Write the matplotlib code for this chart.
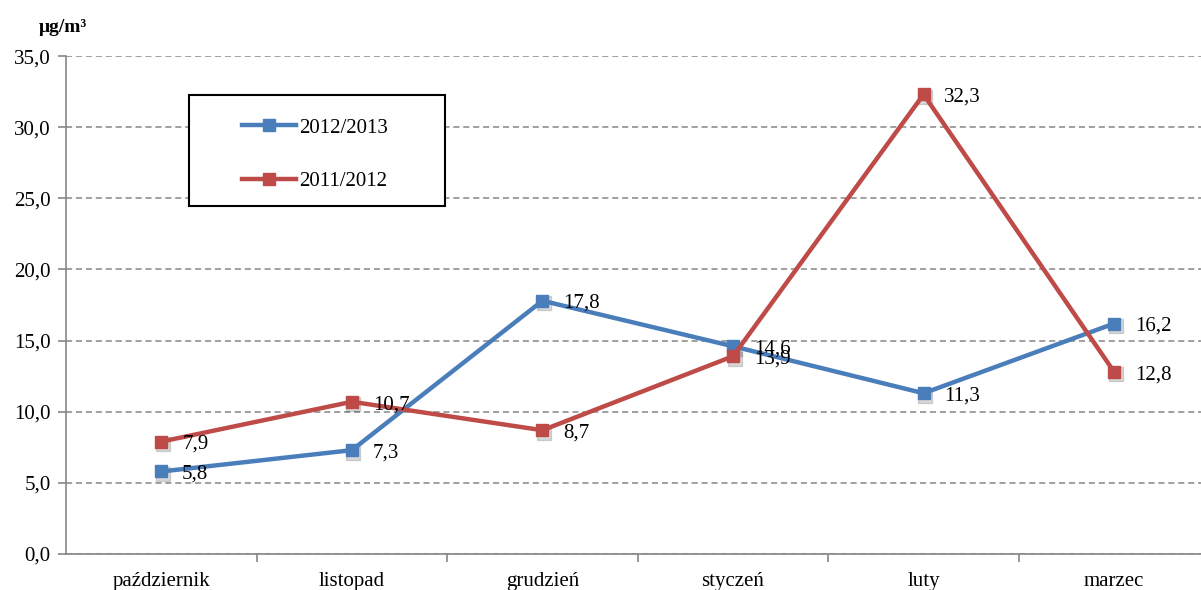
import matplotlib.pyplot as plt
from matplotlib.patches import Rectangle
from matplotlib.transforms import offset_copy

months = ["październik", "listopad", "grudzień", "styczeń", "luty", "marzec"]
s_2012_2013 = [5.8, 7.3, 17.8, 14.6, 11.3, 16.2]
s_2011_2012 = [7.9, 10.7, 8.7, 13.9, 32.3, 12.8]
y_ticks = [0, 5, 10, 15, 20, 25, 30, 35]

plt.rcParams['font.family'] = ['Liberation Serif', 'DejaVu Serif']
FS = 15

fig = plt.figure(figsize=(12.01, 5.90), dpi=100)
ax = fig.add_axes([0.055, 0.061, 0.952, 0.844])

x = list(range(len(months)))
shadow_tr = offset_copy(ax.transData, fig=fig, x=1.5, y=-2.5, units='dots')

series = [("2012/2013", s_2012_2013, "#4A7EBB"), ("2011/2012", s_2011_2012, "#BE4B48")]
for name, vals, col in series:
    # soft marker shadow
    ax.plot(x, vals, ls='none', marker='s', markersize=10, color='black',
            alpha=0.15, transform=shadow_tr, zorder=2)
    ax.plot(x, vals, color=col, lw=3.2, marker='s', markersize=8,
            markerfacecolor=col, markeredgecolor=col, label=name,
            solid_joinstyle='round', zorder=3)
    for xi, v in zip(x, vals):
        ax.annotate(f"{v:.1f}".replace('.', ','), (xi, v), xytext=(15, -2),
                    textcoords='offset points', ha='left', va='center',
                    fontsize=FS, zorder=4)

ax.set_xlim(-0.5, len(months) - 0.5)
ax.set_ylim(0, 35)
ax.set_yticks(y_ticks)
ax.set_yticklabels([f"{t:.1f}".replace('.', ',') for t in y_ticks], fontsize=FS)
ax.set_xticks(x)
ax.set_xticklabels(months, fontsize=FS)
ax.set_xticks([i + 0.5 for i in range(len(months))], minor=True)
ax.tick_params(axis='x', which='major', length=0, pad=13)
ax.tick_params(axis='x', which='minor', length=6, color='#868686', width=1.2)
ax.tick_params(axis='y', length=6, color='#868686', width=1.2, pad=5)

ax.grid(axis='y', ls=(0, (4, 2.5)), color='#868686', lw=1.1)
ax.set_axisbelow(True)
for side in ['top', 'right']:
    ax.spines[side].set_visible(False)
for side in ['left', 'bottom']:
    ax.spines[side].set_color('#868686')
    ax.spines[side].set_linewidth(1.2)

fig.text(0.032, 0.953, "μg/m³", fontsize=14, fontweight='bold', ha='left', va='center')

# legend box drawn separately (wide Excel-style frame)
ax.add_patch(Rectangle((0.1574, 0.6508), 0.2132, 0.1881, transform=fig.transFigure,
                       facecolor='white', edgecolor='black', lw=1.5, zorder=5,
                       clip_on=False))
leg = ax.legend(loc='upper left', bbox_to_anchor=(0.2015, 0.800),
                bbox_transform=fig.transFigure, fontsize=FS, frameon=False,
                handlelength=2.6, handletextpad=0.15, labelspacing=1.64,
                borderpad=0, borderaxespad=0)
leg.set_zorder(6)

fig.savefig("out.png", dpi=100)
